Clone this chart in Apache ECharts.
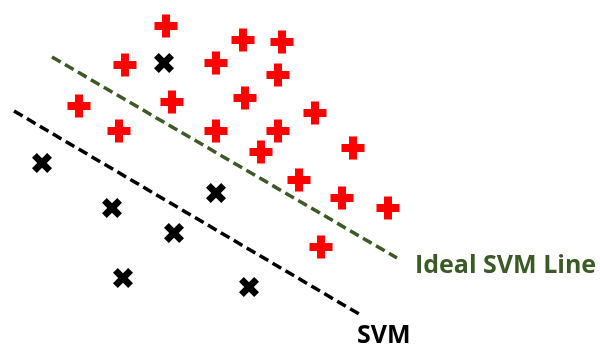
<!DOCTYPE html>
<html>
<head>
<meta charset="utf-8">
<script src="https://cdn.jsdelivr.net/npm/echarts@6/dist/echarts.min.js"></script>
<style>
  html, body { margin: 0; padding: 0; background: #fff; }
  #chart { width: 600px; height: 347px; }
</style>
</head>
<body>
<div id="chart"></div>
<script>
  // points, in picture units (x right, y down)
  var plusPts = [
    [166, 26], [243, 40], [282, 42], [125, 65], [216, 63], [278, 75],
    [79, 106], [172, 102], [245, 98], [119, 131], [216, 131], [278, 131],
    [261, 152], [315, 113], [353, 148], [299, 180], [342, 198], [388, 208],
    [321, 247]
  ];
  var crossPts = [
    [164, 63], [42, 163], [112, 208], [216, 193], [174, 233], [123, 278], [249, 287]
  ];
  var idealLine = [[52, 57], [397, 258]];
  var svmLine = [[14, 111], [359, 314]];

  var myChart = echarts.init(document.getElementById("chart"));

  var plusPath = 'path://M7.5,0H15.5V7.5H23V15.5H15.5V23H7.5V15.5H0V7.5H7.5Z';
  var crossPath = 'path://M2.4,0L5,2.6L7.6,0L10,2.4L7.4,5L10,7.6L7.6,10L5,7.4L2.4,10L0,7.6L2.6,5L0,2.4Z';

  var option = {
    animation: false,
    grid: { left: 0, right: 0, top: 0, bottom: 0 },
    xAxis: { type: 'value', min: 0, max: 600, show: false },
    yAxis: { type: 'value', min: 0, max: 347, inverse: true, show: false },
    series: [
      {
        name: 'Ideal SVM Line',
        type: 'line',
        data: idealLine,
        symbol: 'none',
        lineStyle: { color: '#3B5A25', width: 3.5, type: [10, 5] },
        endLabel: {
          show: true,
          formatter: '{a}',
          color: '#3B5A25',
          fontFamily: 'Open Sans',
          fontWeight: 'bold',
          fontSize: 25,
          distance: 0,
          offset: [18, 8]
        }
      },
      {
        name: 'SVM',
        type: 'line',
        data: svmLine,
        symbol: 'none',
        lineStyle: { color: '#000', width: 3.5, type: [10, 5] },
        endLabel: {
          show: true,
          formatter: '{a}',
          color: '#000',
          fontFamily: 'Open Sans',
          fontWeight: 'bold',
          fontSize: 25,
          distance: 0,
          offset: [-2, 22]
        }
      },
      {
        type: 'scatter',
        data: plusPts,
        symbol: plusPath,
        symbolSize: 23,
        itemStyle: { color: '#FF0000', opacity: 1 }
      },
      {
        type: 'scatter',
        data: crossPts,
        symbol: crossPath,
        symbolSize: 20,
        itemStyle: { color: '#000', opacity: 1 }
      }
    ]
  };

  myChart.setOption(option);
</script>
</body>
</html>
